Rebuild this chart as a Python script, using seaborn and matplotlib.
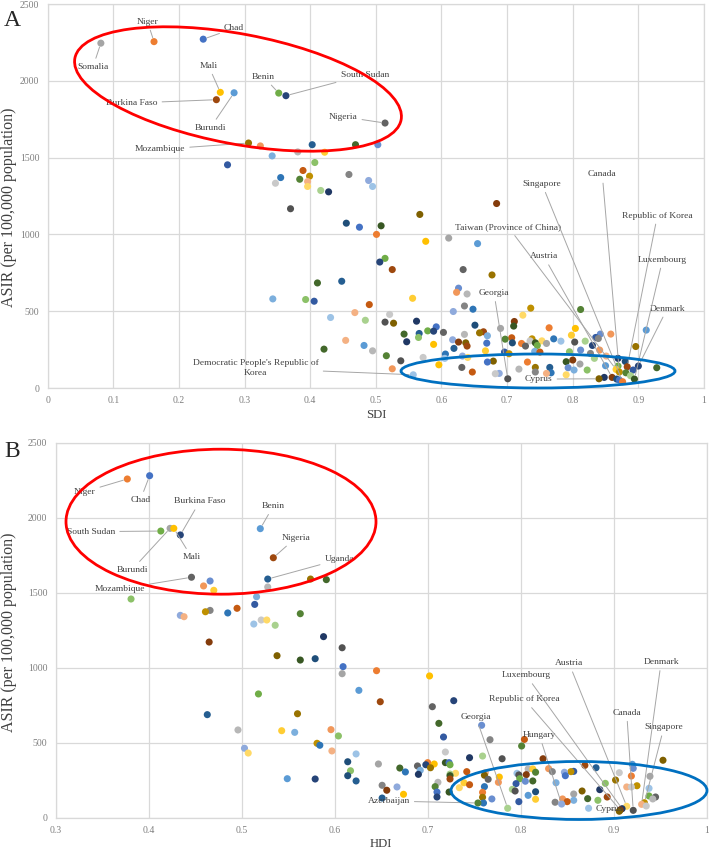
import numpy as np
import pandas as pd
import matplotlib
matplotlib.use('Agg')
import matplotlib.pyplot as plt
from matplotlib.patches import Ellipse
from matplotlib.transforms import IdentityTransform
import seaborn as sns

# ---------------- Panel A: SDI vs ASIR ----------------
sdi_x = [0.324, 0.403, 0.469, 0.503, 0.381, 0.422, 0.342, 0.274, 0.407, 0.389,
         0.399, 0.355, 0.384, 0.396, 0.347, 0.396, 0.459, 0.489, 0.495, 0.416,
         0.428, 0.370, 0.455, 0.475, 0.508, 0.501, 0.567, 0.576, 0.611, 0.655,
         0.514, 0.506, 0.525, 0.633, 0.448, 0.684, 0.677, 0.626, 0.623, 0.639,
         0.556, 0.411, 0.343, 0.393, 0.406, 0.490, 0.468, 0.431, 0.484, 0.454,
         0.482, 0.421, 0.495, 0.521, 0.514, 0.527, 0.562, 0.618, 0.635, 0.648,
         0.651, 0.592, 0.588, 0.579, 0.566, 0.565, 0.603, 0.543, 0.547, 0.588,
         0.617, 0.619, 0.626, 0.635, 0.637, 0.639, 0.658, 0.664, 0.670, 0.669,
         0.690, 0.711, 0.710, 0.724, 0.736, 0.812, 0.764, 0.798, 0.804, 0.707,
         0.697, 0.708, 0.722, 0.728, 0.735, 0.738, 0.743, 0.746, 0.753, 0.760,
         0.771, 0.782, 0.803, 0.819, 0.830, 0.835, 0.839, 0.842, 0.858, 0.912,
         0.896, 0.928, 0.516, 0.538, 0.525, 0.572, 0.596, 0.606, 0.605, 0.631,
         0.647, 0.632, 0.640, 0.667, 0.670, 0.679, 0.682, 0.688, 0.696, 0.703,
         0.718, 0.731, 0.743, 0.743, 0.742, 0.750, 0.765, 0.767, 0.760, 0.790,
         0.790, 0.793, 0.800, 0.802, 0.795, 0.811, 0.812, 0.822, 0.827, 0.833,
         0.841, 0.851, 0.850, 0.848, 0.869, 0.869, 0.880, 0.881, 0.888, 0.892,
         0.867, 0.871]
sdi_y = [1576, 1584, 1584, 1584, 1537, 1535, 1511, 1453, 1468, 1416,
         1379, 1370, 1359, 1344, 1333, 1312, 1390, 1351, 1312, 1286,
         1277, 1167, 1073, 1047, 1056, 1000, 1130, 955, 976, 940,
         844, 820, 771, 771, 695, 1201, 736, 650, 623, 612,
         584, 684, 580, 576, 565, 543, 491, 459, 441, 310,
         277, 253, 242, 479, 429, 422, 435, 498, 534, 513,
         409, 398, 370, 372, 355, 329, 362, 351, 301, 284,
         314, 258, 299, 349, 294, 273, 359, 366, 340, 292,
         388, 433, 403, 474, 520, 511, 392, 344, 388, 327,
         318, 294, 290, 273, 307, 320, 294, 277, 307, 290,
         320, 305, 299, 305, 277, 329, 322, 351, 351, 377,
         270, 132, 210, 177, 125, 199, 151, 221, 193, 134,
         104, 208, 199, 242, 169, 175, 93, 95, 234, 223,
         123, 169, 134, 104, 238, 234, 134, 99, 95, 171,
         86, 132, 182, 117, 236, 156, 247, 117, 225, 193,
         247, 208, 145, 69, 193, 143, 173, 99, 80, 117,
         58, 52]
sdi_names = ["Chad", "Niger", "Somalia", "Burundi", "Mali", "Benin", "South Sudan",
             "Burkina Faso", "Nigeria", "Mozambique",
             "Democratic People's Republic of\nKorea", "Georgia", "Cyprus",
             "Austria", "Taiwan (Province of China)", "Canada", "Singapore",
             "Republic of Korea", "Luxembourg", "Denmark"]
sdi_name_x = [0.237, 0.162, 0.081, 0.284, 0.263, 0.352, 0.363, 0.257, 0.514, 0.306,
              0.557, 0.701, 0.840, 0.860, 0.866, 0.871, 0.876, 0.883, 0.894, 0.900]
sdi_name_y = [2271, 2255, 2245, 1922, 1925, 1920, 1903, 1877, 1725, 1595,
              86, 60, 60, 69, 121, 104, 41, 138, 58, 143]

# ---------------- Panel B: HDI vs ASIR ----------------
hdi_x = [0.466, 0.459, 0.470, 0.528, 0.574, 0.591, 0.381, 0.516, 0.514, 0.495,
         0.485, 0.461, 0.466, 0.434, 0.438, 0.563, 0.513, 0.521, 0.527, 0.536,
         0.588, 0.465, 0.608, 0.538, 0.563, 0.579, 0.609, 0.608, 0.645, 0.626,
         0.518, 0.463, 0.560, 0.496, 0.543, 0.557, 0.596, 0.604, 0.503, 0.507,
         0.581, 0.584, 0.597, 0.623, 0.614, 0.617, 0.614, 0.623, 0.549, 0.579,
         0.647, 0.649, 0.702, 0.728, 0.705, 0.712, 0.758, 0.717, 0.767, 0.804,
         0.801, 0.824, 0.780, 0.759, 0.745, 0.719, 0.719, 0.723, 0.724, 0.700,
         0.707, 0.698, 0.692, 0.689, 0.703, 0.670, 0.676, 0.690, 0.742, 0.730,
         0.724, 0.724, 0.762, 0.761, 0.765, 0.777, 0.776, 0.761, 0.745, 0.739,
         0.734, 0.724, 0.723, 0.711, 0.708, 0.710, 0.710, 0.651, 0.656, 0.667,
         0.674, 0.651, 0.760, 0.759, 0.759, 0.769, 0.795, 0.791, 0.794, 0.796,
         0.798, 0.799, 0.805, 0.806, 0.808, 0.813, 0.813, 0.816, 0.808, 0.816,
         0.816, 0.798, 0.830, 0.834, 0.838, 0.847, 0.848, 0.854, 0.857, 0.857,
         0.857, 0.845, 0.837, 0.850, 0.866, 0.869, 0.872, 0.873, 0.881, 0.883,
         0.885, 0.891, 0.893, 0.902, 0.906, 0.914, 0.919, 0.919, 0.920, 0.921,
         0.925, 0.935, 0.938, 0.938, 0.939, 0.942, 0.945, 0.953]
hdi_y = [1578, 1545, 1516, 1538, 1591, 1587, 1458, 1473, 1422, 1396,
         1365, 1373, 1382, 1349, 1340, 1360, 1291, 1318, 1318, 1283,
         1207, 1171, 1133, 1080, 1051, 1060, 1007, 960, 980, 849,
         825, 687, 693, 585, 580, 569, 587, 545, 463, 431,
         496, 483, 445, 425, 373, 313, 280, 245, 260, 258,
         358, 773, 945, 780, 740, 629, 616, 538, 520, 522,
         478, 393, 393, 411, 400, 438, 367, 367, 353, 367,
         358, 353, 316, 345, 333, 331, 305, 289, 307, 296,
         291, 280, 300, 283, 256, 271, 236, 207, 220, 233,
         200, 258, 171, 236, 207, 171, 138, 216, 183, 205,
         156, 131, 98, 136, 169, 125, 227, 189, 178, 296,
         285, 260, 243, 287, 325, 245, 325, 303, 149, 173,
         123, 107, 327, 307, 233, 303, 280, 307, 309, 158,
         116, 125, 103, 107, 178, 349, 127, 63, 333, 116,
         187, 229, 138, 251, 300, 205, 278, 205, 356, 329,
         213, 78, 145, 196, 276, 125, 138, 383]
hdi_names = ["Chad", "Niger", "Burundi", "Mali", "Benin", "South Sudan",
             "Burkina Faso", "Nigeria", "Mozambique", "Uganda", "Azerbaijan",
             "Georgia", "Hungary", "Cyprus", "Luxembourg", "Austria",
             "Republic of Korea", "Canada", "Denmark", "Singapore"]
hdi_name_x = [0.401, 0.377, 0.423, 0.427, 0.520, 0.413, 0.434, 0.534, 0.446, 0.528,
              0.754, 0.786, 0.844, 0.906, 0.909, 0.914, 0.907, 0.921, 0.930, 0.933]
hdi_name_y = [2280, 2258, 1929, 1929, 1927, 1911, 1885, 1733, 1603, 1591,
              98, 63, 91, 43, 60, 76, 52, 49, 89, 100]

# label placement (text centre, data units)
SDI_TEXT = {
    "Niger": (0.152, 2385), "Somalia": (0.069, 2091), "Chad": (0.284, 2342),
    "Mali": (0.245, 2098), "Burkina Faso": (0.128, 1855), "Burundi": (0.248, 1695),
    "Benin": (0.329, 2026), "South Sudan": (0.483, 2039), "Nigeria": (0.450, 1766),
    "Mozambique": (0.171, 1554),
    "Democratic People's Republic of\nKorea": (0.317, 128),
    "Georgia": (0.680, 619), "Cyprus": (0.748, 58), "Austria": (0.756, 857),
    "Taiwan (Province of China)": (0.702, 1047), "Singapore": (0.753, 1329),
    "Canada": (0.845, 1390), "Republic of Korea": (0.929, 1123),
    "Luxembourg": (0.937, 836), "Denmark": (0.944, 517),
}
HDI_TEXT = {
    "Niger": (0.331, 2173), "Chad": (0.391, 2118), "South Sudan": (0.338, 1907),
    "Burkina Faso": (0.455, 2109), "Burundi": (0.382, 1653), "Mali": (0.446, 1738),
    "Mozambique": (0.369, 1525), "Benin": (0.534, 2078), "Nigeria": (0.558, 1865),
    "Uganda": (0.605, 1722), "Austria": (0.852, 1029), "Luxembourg": (0.806, 949),
    "Republic of Korea": (0.804, 789), "Canada": (0.914, 700),
    "Singapore": (0.954, 603), "Denmark": (0.951, 1038), "Georgia": (0.752, 669),
    "Hungary": (0.820, 551), "Cyprus": (0.895, 58), "Azerbaijan": (0.658, 111),
}

# Excel series colour cycle (series are ordered by ASIR, descending)
EXCEL_COLORS = [
    '#4472C4', '#ED7D31', '#A5A5A5', '#FFC000', '#5B9BD5', '#70AD47',
    '#264478', '#9E480E', '#636363', '#997300', '#255E91', '#43682B',
    '#698ED0', '#F1975A', '#B7B7B7', '#FFCD33', '#7CAFDD', '#8CC168',
    '#335AA1', '#C55A11', '#848484', '#BF9000', '#2E75B6', '#548235',
    '#8FAADC', '#F4B183', '#C9C9C9', '#FFD966', '#9DC3E6', '#A9D18E',
    '#203864', '#843C0C', '#525252', '#7F6000', '#1F4E79', '#385723',
]

W, H = 709, 851


def build_frame(x, y, names, nx, ny):
    df = pd.DataFrame({
        'x': list(x) + list(nx),
        'y': list(y) + list(ny),
        'name': [''] * len(x) + list(names),
    })
    df = df.sort_values('y', ascending=False, kind='stable').reset_index(drop=True)
    df['series'] = [f's{i}' for i in range(len(df))]
    return df


def draw_panel(ax, df, text_pos, xticks, xlabel):
    pal = [EXCEL_COLORS[i % len(EXCEL_COLORS)] for i in range(len(df))]
    sns.scatterplot(data=df, x='x', y='y', hue='series', palette=pal, s=26,
                    linewidth=0, legend=False, ax=ax, zorder=3)
    for _, row in df[df['name'] != ''].iterrows():
        tx, ty = text_pos[row['name']]
        ax.annotate(row['name'], xy=(row['x'], row['y']), xytext=(tx, ty),
                    ha='center', va='center', fontsize=6.8, color='#404040',
                    linespacing=1.3, zorder=4,
                    arrowprops=dict(arrowstyle='-', color='#A6A6A6', lw=0.7,
                                    shrinkA=1, shrinkB=3))
    ax.set_xlim(xticks[0], xticks[-1])
    ax.set_ylim(0, 2500)
    ax.set_xticks(xticks)
    ax.set_xticklabels([('%g' % t) for t in xticks])
    ax.set_yticks([0, 500, 1000, 1500, 2000, 2500])
    ax.grid(True, color='#D9D9D9', lw=0.9)
    ax.set_axisbelow(True)
    for sp in ax.spines.values():
        sp.set_color('#D9D9D9')
        sp.set_linewidth(0.9)
    ax.tick_params(length=0, labelsize=7, labelcolor='#7F7F7F', pad=6)
    ax.set_xlabel(xlabel, fontsize=9.2, color='#404040')
    ax.set_ylabel('ASIR (per 100,000 population)', fontsize=11.5, color='#404040')


def ring(fig, cx, cy, a, b, angle, color):
    # ellipse drawn in figure pixel space (y measured from the top)
    fig.add_artist(Ellipse((cx, H - cy), 2 * a, 2 * b, angle=-angle, fill=False,
                           edgecolor=color, lw=2.0, transform=IdentityTransform(),
                           zorder=5))


sns.set_theme(style='whitegrid')
plt.rcParams['font.family'] = ['Liberation Serif', 'DejaVu Serif']

fig = plt.figure(figsize=(W / 100, H / 100), dpi=100)
axA = fig.add_axes([47.7 / W, 1 - 388 / H, 656.3 / W, 384 / H])
axB = fig.add_axes([55.7 / W, 1 - 817.7 / H, 651 / W, 375 / H])

dfA = build_frame(sdi_x, sdi_y, sdi_names, sdi_name_x, sdi_name_y)
dfB = build_frame(hdi_x, hdi_y, hdi_names, hdi_name_x, hdi_name_y)

draw_panel(axA, dfA, SDI_TEXT, [0, 0.1, 0.2, 0.3, 0.4, 0.5, 0.6, 0.7, 0.8, 0.9, 1], 'SDI')
draw_panel(axB, dfB, HDI_TEXT, [0.3, 0.4, 0.5, 0.6, 0.7, 0.8, 0.9, 1], 'HDI')

axA.xaxis.set_label_coords(0.5, -0.055)
axA.yaxis.set_label_coords(-0.047, 0.47)
axB.xaxis.set_label_coords(0.5, -0.054)
axB.yaxis.set_label_coords(-0.060, 0.495)

ring(fig, 238, 89, 166, 55, 10.7, '#FF0000')
ring(fig, 538, 371, 137, 17, 0, '#0070C0')
ring(fig, 221, 521.7, 155, 72.5, 0, '#FF0000')
ring(fig, 579, 790.5, 128, 29, 0, '#0070C0')

fig.text(12 / W, 1 - 20 / H, 'A', fontsize=17, ha='center', va='center')
fig.text(12 / W, 1 - 452 / H, 'B', fontsize=17, ha='center', va='center')

fig.savefig('out.png', dpi=100, facecolor='white')
